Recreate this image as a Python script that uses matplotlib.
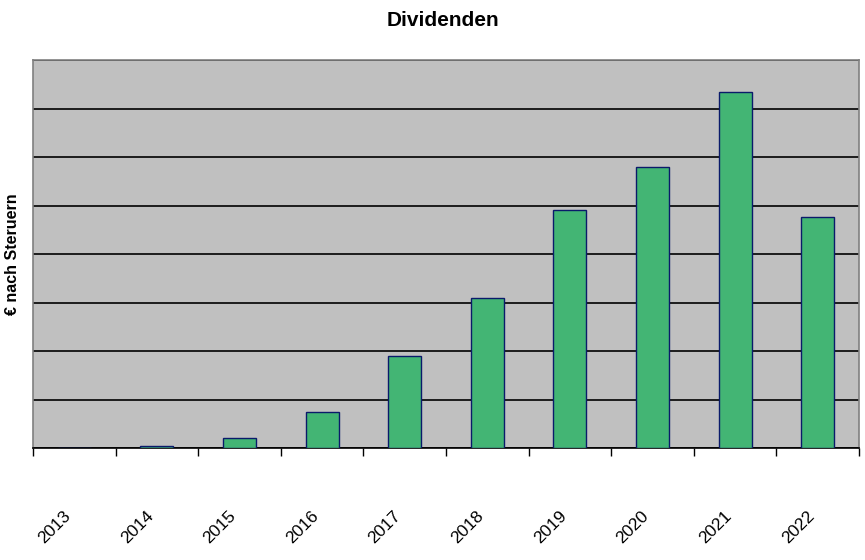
import numpy as np
import matplotlib
matplotlib.use('Agg')
import matplotlib.pyplot as plt
import matplotlib.transforms as mtransforms

years = ['2013', '2014', '2015', '2016', '2017', '2018', '2019', '2020', '2021', '2022']
dividends = [0.0, 0.05, 0.2, 0.75, 1.9, 3.1, 4.91, 5.8, 7.35, 4.77]

plt.rcParams['font.family'] = ['Liberation Sans', 'DejaVu Sans']

fig = plt.figure(figsize=(8.65, 5.6), dpi=100)
ax = fig.add_axes([33 / 865, 112 / 560, 826 / 865, 388 / 560])

x = np.arange(len(years))
ax.bar(x, dividends, width=0.4, color='#43b574', edgecolor='#0a1a6a', linewidth=1.0, zorder=3)

ax.set_facecolor('#c0c0c0')
ax.set_xlim(-0.5, len(years) - 0.5)
ax.set_ylim(0, 8)
ax.set_yticks(np.arange(0, 9, 1))
ax.set_yticklabels([])
ax.tick_params(axis='y', length=0)
ax.yaxis.grid(True, color='black', linewidth=1.2, zorder=1)

# ticks at category boundaries, labels at centres
ax.set_xticks(np.arange(-0.5, len(years), 1))
ax.set_xticklabels([])
ax.tick_params(axis='x', which='major', length=6, width=1.0, color='black', direction='out')
ax.set_xticks(x, minor=True)
ax.set_xticklabels(years, minor=True, rotation=45, ha='right', va='center', rotation_mode='anchor', fontsize=12.5)
ax.tick_params(axis='x', which='minor', length=0, pad=47)
shift = mtransforms.ScaledTranslation(-6 / 100, 0, fig.dpi_scale_trans)
for lbl in ax.get_xticklabels(minor=True):
    lbl.set_transform(lbl.get_transform() + shift)

for side in ['top', 'left', 'right']:
    ax.spines[side].set_color('#808080')
    ax.spines[side].set_linewidth(1.2)
ax.spines['bottom'].set_color('black')
ax.spines['bottom'].set_linewidth(1.2)

ax.set_ylabel('€ nach Steruern', fontsize=11.5, fontweight='bold', va='center')
ax.yaxis.set_label_coords(-20 / 826, 0.5)
fig.suptitle('Dividenden', x=443 / 865, y=1 - 20 / 560, va='center', fontsize=15, fontweight='bold')

fig.savefig('out.png', dpi=100)
